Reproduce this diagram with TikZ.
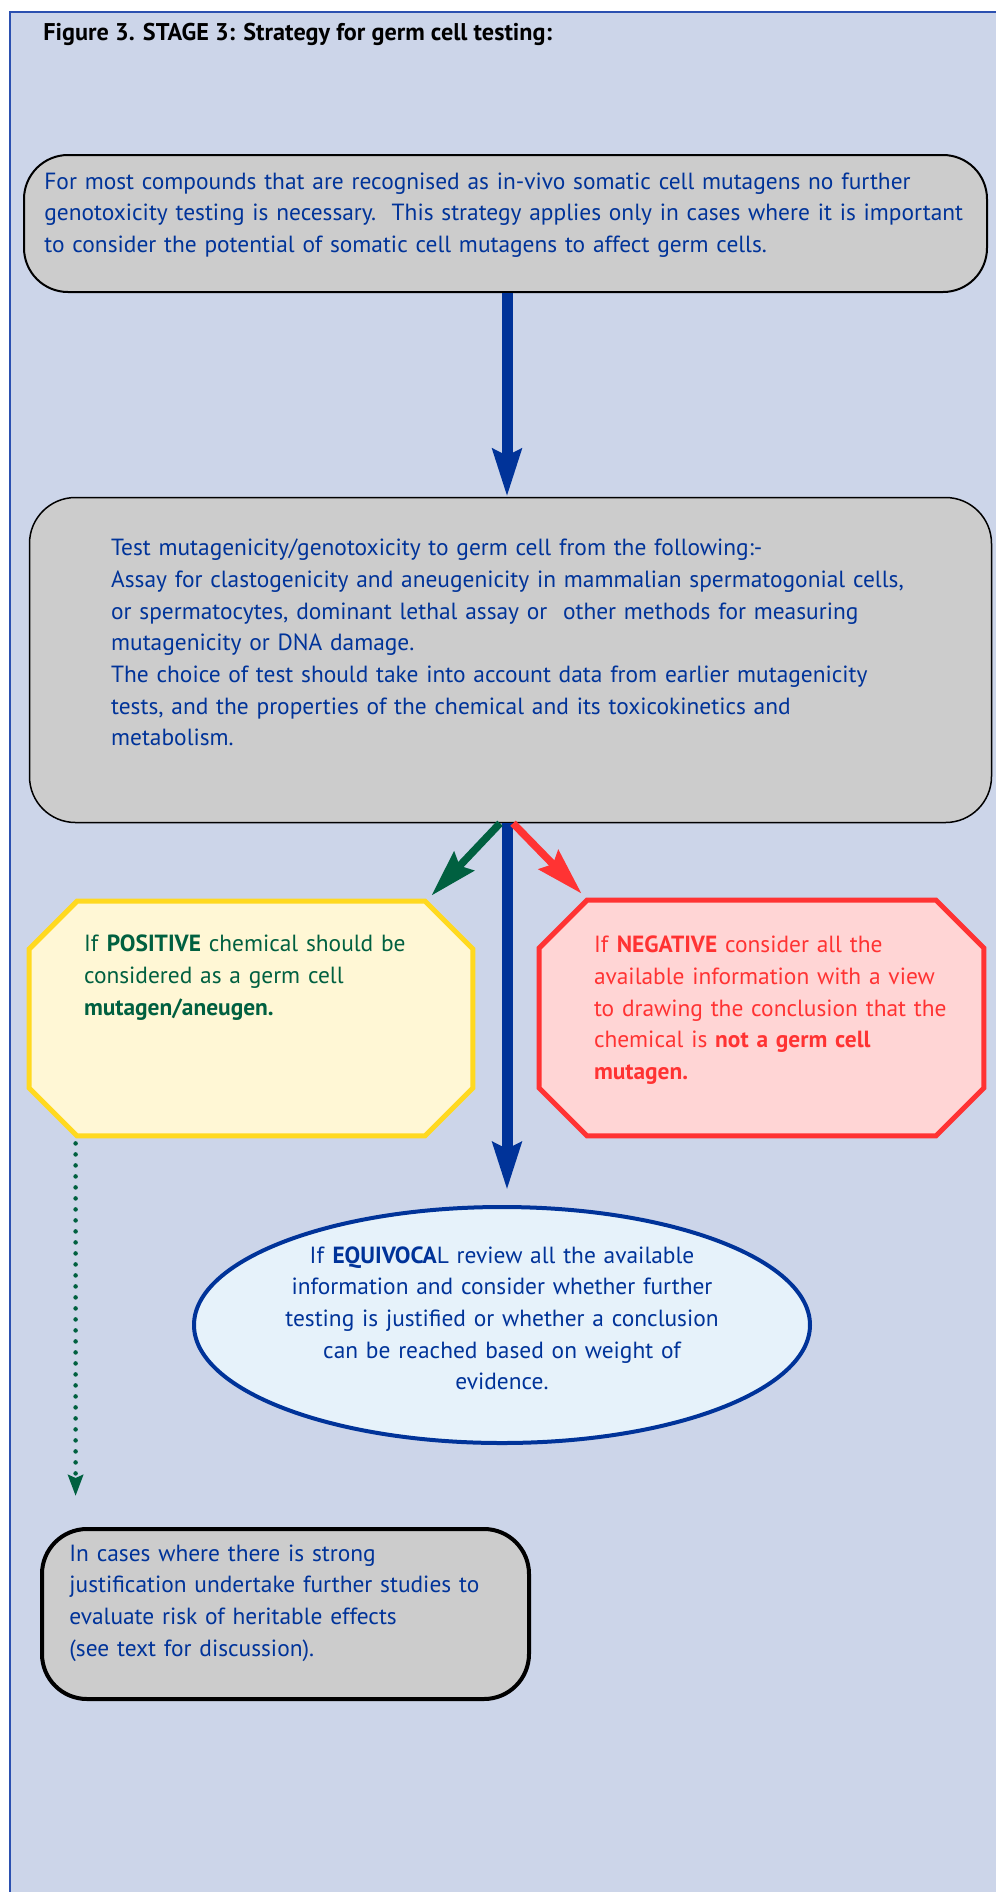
\documentclass[tikz,border=0pt]{standalone}
\usepackage{fontspec}
\setmainfont{PT Sans}
\usetikzlibrary{calc,arrows.meta,shapes.geometric}
\definecolor{bgblue}{HTML}{CCD5E9}
\definecolor{frameblue}{HTML}{2B50B0}
\definecolor{boxgrey}{HTML}{CCCCCC}
\definecolor{textblue}{HTML}{003399}
\definecolor{posgreen}{HTML}{006040}
\definecolor{posline}{HTML}{FFD920}
\definecolor{posfill}{HTML}{FFF7D5}
\definecolor{negred}{HTML}{FF3333}
\definecolor{negfill}{HTML}{FFD5D5}
\definecolor{equifill}{HTML}{E6F2FA}
\newcommand\bodyfont{\fontsize{11.7pt}{15.85pt}\selectfont}

\begin{document}
\begin{tikzpicture}[x=0.5pt,y=-0.5pt,
    greybox/.style={draw=black,fill=boxgrey,rounded corners=22pt,inner sep=0pt},
    octbox/.style={inner sep=0pt},
    octline/.style={line width=2.5pt,line join=miter},
    bodytext/.style={font=\bodyfont,text=textblue,inner sep=0pt,align=left,text width=480pt,anchor=base west},
    spinearrow/.style={draw=textblue,line width=5.5pt,-{Stealth[length=23.5pt,width=14pt,inset=3pt]}},
    sidearrow/.style={line width=3.75pt,-{Stealth[length=23.5pt,width=13.5pt,inset=3pt]}},
    dotarrow/.style={draw=posgreen,line width=2.25pt,line cap=round,dash pattern=on 0pt off 5.5pt,
      -{Stealth[length=10.5pt,width=7.5pt,inset=1.5pt]}}]
  \useasboundingbox (0,0) rectangle (996,1892);
  \fill[bgblue] (10,12) rectangle (996,1892);
  \draw[frameblue,line width=1pt] (996,12) -- (10,12) -- (10,1892);
  \node[font=\fontsize{12.1pt}{14pt}\selectfont\bfseries,inner sep=0pt,anchor=base west] (title) at (43,40)
    {Figure 3. STAGE 3: Strategy for germ cell testing:};

  % boxes
  \node[greybox,line width=1pt,minimum width=481.5pt,minimum height=68.5pt] (start) at (505.5,223.5) {};
  \node[greybox,line width=0.75pt,rounded corners=23pt,minimum width=481pt,minimum height=162.5pt] (test) at (510.5,660) {};
  \node[octbox,minimum width=221.5pt,minimum height=117pt] (positive) at (251,1018.5) {};
  \node[octbox,minimum width=222pt,minimum height=117.5pt] (negative) at (761.5,1018) {};
  \node[ellipse,draw=textblue,fill=equifill,line width=2pt,inner sep=0pt,minimum width=308pt,minimum height=118pt] (equivocal) at (502,1325) {};
  \node[greybox,line width=2pt,rounded corners=22.5pt,minimum width=243.5pt,minimum height=85pt] (further) at (285.5,1614) {};

  % cut corners of the two result boxes
  \filldraw[octline,draw=posline,fill=posfill]
    ($(positive.north west)+(48,0)$) -- ($(positive.north east)+(-48,0)$) -- ($(positive.north east)+(0,48)$)
    -- ($(positive.south east)+(0,-48)$) -- ($(positive.south east)+(-48,0)$) -- ($(positive.south west)+(48,0)$)
    -- ($(positive.south west)+(0,-48)$) -- ($(positive.north west)+(0,48)$) -- cycle;
  \filldraw[octline,draw=negred,fill=negfill]
    ($(negative.north west)+(48,0)$) -- ($(negative.north east)+(-48,0)$) -- ($(negative.north east)+(0,48)$)
    -- ($(negative.south east)+(0,-48)$) -- ($(negative.south east)+(-48,0)$) -- ($(negative.south west)+(48,0)$)
    -- ($(negative.south west)+(0,-48)$) -- ($(negative.north west)+(0,48)$) -- cycle;

  % texts
  \node[bodytext] (starttext) at ($(start.north west)+(21,35)$)
    {For most compounds that are recognised as in-vivo\ somatic cell mutagens no further\\
     genotoxicity testing is necessary.\ \ This strategy applies only in cases where it is important\\
     to consider the potential of somatic cell mutagens to affect germ cells.};
  \node[bodytext] (testtext) at ($(test.north west)+(82,59)$)
    {Test mutagenicity/genotoxicity to germ cell from the following:-\\
     Assay for clastogenicity and aneugenicity in mammalian spermatogonial cells,\\
     or spermatocytes, dominant lethal assay or\ \ other methods for measuring\\
     mutagenicity or DNA damage.\\
     The choice of test should take into account data from earlier mutagenicity\\
     tests, and the properties of the chemical and its toxicokinetics and\\
     metabolism.};
  \node[bodytext,text=posgreen] (postext) at ($(positive.north west)+(54.5,50.5)$)
    {If \textbf{POSITIVE} chemical should be\\
     considered as a germ cell\\
     \textbf{mutagen/aneugen.}};
  \node[bodytext,text=negred] (negtext) at ($(negative.north west)+(54.5,52.5)$)
    {If \textbf{NEGATIVE} consider all the\\
     available information with a view\\
     to drawing the conclusion that the\\
     chemical is \textbf{not a germ cell}\\
     \textbf{mutagen.}};
  \node[bodytext,align=center,text width=300pt,anchor=base] (equitext) at ($(equivocal.north)+(0,58)$)
    {If \textbf{EQUIVOCA}L review all the available\\
     information and consider whether further\\
     testing is justified or whether a conclusion\\
     can be reached based on weight of\\
     evidence.};
  \node[bodytext] (furthertext) at ($(further.north west)+(29,34)$)
    {In cases where there is strong\\
     justification undertake further studies to\\
     evaluate risk of heritable effects\\
     (see text for discussion).};

  % arrows
  \coordinate (spine) at (507,0);
  \coordinate (dotstart) at ($(positive.south west)+(46.5,7.5)$);
  \draw[spinearrow] (start.south -| spine) -- (test.north -| spine);
  \draw[spinearrow,shorten >=7.5pt] (test.south -| spine) -- (equivocal.north -| spine);
  \draw[sidearrow,posgreen] ($(test.south -| spine)+(-7,0)$) -- ($(positive.north east)+(-41.5,-5.5)$);
  \draw[sidearrow,negred] ($(test.south -| spine)+(6,0)$) -- ($(negative.north west)+(42.5,-6.5)$);
  \draw[dotarrow,shorten >=15.5pt] (dotstart) -- (dotstart |- further.north);
\end{tikzpicture}
\end{document}
